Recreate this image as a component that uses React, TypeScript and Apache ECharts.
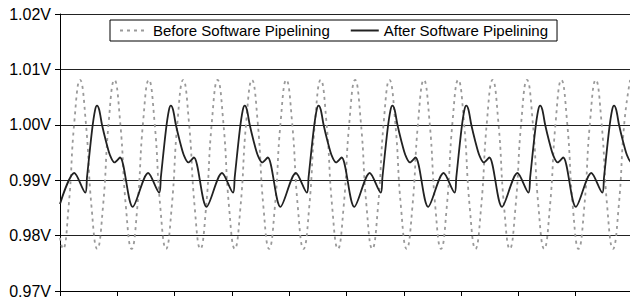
import React, { useEffect, useRef } from "react";
import * as echarts from "echarts";

const yTicks = [0.97, 0.98, 0.99, 1.0, 1.01, 1.02];
const seriesNames = ["Before Software Pipelining", "After Software Pipelining"];

const grayX = [
  0, 0.05, 0.15, 0.25, 0.35, 0.45, 0.55, 0.65, 0.75, 0.85,
  0.95, 1.05, 1.15, 1.25, 1.35, 1.45, 1.55, 1.65, 1.75, 1.85,
  1.95, 2.05, 2.15, 2.25, 2.35, 2.45, 2.55, 2.65, 2.75, 2.85,
  2.95, 3.05, 3.15, 3.25, 3.35, 3.45, 3.55, 3.65, 3.75, 3.85,
  3.95, 4.05, 4.15, 4.25, 4.35, 4.45, 4.55, 4.65, 4.75, 4.85,
  4.95, 5.05, 5.15, 5.25, 5.35, 5.45, 5.55, 5.65, 5.75, 5.85,
  5.95, 6.05, 6.15, 6.25, 6.35, 6.45, 6.55, 6.65, 6.75, 6.85,
  6.95, 7.05, 7.15, 7.25, 7.35, 7.45, 7.55, 7.65, 7.75, 7.85,
  7.95, 8.05, 8.15, 8.25, 8.35, 8.45, 8.55, 8.65, 8.75, 8.85,
  8.95, 9.05, 9.15, 9.25, 9.35, 9.45, 9.55, 9.65, 9.75, 9.85,
  9.95,
];

const grayY = [
  0.9796,
  0.9776, 0.9852, 1.0005, 1.0081, 1.0005, 0.9852,
  0.9776, 0.9852, 1.0005, 1.0081, 1.0005, 0.9852,
  0.9776, 0.9852, 1.0005, 1.0081, 1.0005, 0.9852,
  0.9776, 0.9852, 1.0005, 1.0081, 1.0005, 0.9852,
  0.9776, 0.9852, 1.0005, 1.0081, 1.0005, 0.9852,
  0.9776, 0.9852, 1.0005, 1.0081, 1.0005, 0.9852,
  0.9776, 0.9852, 1.0005, 1.0081, 1.0005, 0.9852,
  0.9776, 0.9852, 1.0005, 1.0081, 1.0005, 0.9852,
  0.9776, 0.9852, 1.0005, 1.0081, 1.0005, 0.9852,
  0.9776, 0.9852, 1.0005, 1.0081, 1.0005, 0.9852,
  0.9776, 0.9852, 1.0005, 1.0081, 1.0005, 0.9852,
  0.9776, 0.9852, 1.0005, 1.0081, 1.0005, 0.9852,
  0.9776, 0.9852, 1.0005, 1.0081, 1.0005, 0.9852,
  0.9776, 0.9852, 1.0005, 1.0081, 1.0005, 0.9852,
  0.9776, 0.9852, 1.0005, 1.0081, 1.0005, 0.9852,
  0.9776, 0.9852, 1.0005, 1.0081, 1.0005, 0.9852,
  0.9776, 0.9852, 1.0005, 1.0081,
];

const blackX = [
  0,
  0.25, 0.442, 0.471, 0.559, 0.611, 0.646, 0.684, 0.733, 0.803, 0.873, 0.951, 1.047, 1.269,
  1.539, 1.731, 1.76, 1.848, 1.9, 1.935, 1.973, 2.022, 2.092, 2.162, 2.24, 2.336, 2.558,
  2.828, 3.02, 3.049, 3.137, 3.189, 3.224, 3.262, 3.311, 3.381, 3.451, 3.529, 3.625, 3.847,
  4.117, 4.309, 4.338, 4.426, 4.478, 4.513, 4.551, 4.6, 4.67, 4.74, 4.818, 4.914, 5.136,
  5.406, 5.598, 5.627, 5.715, 5.767, 5.802, 5.84, 5.889, 5.959, 6.029, 6.107, 6.203, 6.425,
  6.695, 6.887, 6.916, 7.004, 7.056, 7.091, 7.129, 7.178, 7.248, 7.318, 7.396, 7.492, 7.714,
  7.984, 8.176, 8.205, 8.293, 8.345, 8.38, 8.418, 8.467, 8.537, 8.607, 8.685, 8.781, 9.003,
  9.273, 9.465, 9.494, 9.582, 9.634, 9.669, 9.707, 9.756, 9.826, 9.896, 9.974, 10.07,
];

const blackY = [
  0.9857,
  0.9913, 0.98775, 0.9905, 0.999, 1.0026, 1.00345, 1.0027, 1.0, 0.997, 0.9945, 0.9932, 0.9941, 0.9852,
  0.9913, 0.98775, 0.9905, 0.999, 1.0026, 1.00345, 1.0027, 1.0, 0.997, 0.9945, 0.9932, 0.9941, 0.9852,
  0.9913, 0.98775, 0.9905, 0.999, 1.0026, 1.00345, 1.0027, 1.0, 0.997, 0.9945, 0.9932, 0.9941, 0.9852,
  0.9913, 0.98775, 0.9905, 0.999, 1.0026, 1.00345, 1.0027, 1.0, 0.997, 0.9945, 0.9932, 0.9941, 0.9852,
  0.9913, 0.98775, 0.9905, 0.999, 1.0026, 1.00345, 1.0027, 1.0, 0.997, 0.9945, 0.9932, 0.9941, 0.9852,
  0.9913, 0.98775, 0.9905, 0.999, 1.0026, 1.00345, 1.0027, 1.0, 0.997, 0.9945, 0.9932, 0.9941, 0.9852,
  0.9913, 0.98775, 0.9905, 0.999, 1.0026, 1.00345, 1.0027, 1.0, 0.997, 0.9945, 0.9932, 0.9941, 0.9852,
  0.9913, 0.98775, 0.9905, 0.999, 1.0026, 1.00345, 1.0027, 1.0, 0.997, 0.9945, 0.9932, 0.9941,
];

const FONT = "'Liberation Sans', Arial, sans-serif";

export default function App() {
  const ref = useRef<HTMLDivElement>(null);
  useEffect(() => {
    if (!ref.current) return;
    const chart = echarts.init(ref.current, undefined, { renderer: "svg" });
    const grayData = grayX.map((x, i) => [x, grayY[i]]);
    const blackData = blackX.map((x, i) => [x, blackY[i]]);
    chart.setOption({
      animation: false,
      backgroundColor: "#ffffff",
      textStyle: { fontFamily: FONT },
      grid: { left: 60, right: 7, top: 14, bottom: 10, containLabel: false },
      legend: {
        left: 110,
        top: 20,
        padding: [3, 9, 3, 9],
        borderColor: "#000",
        borderWidth: 1,
        borderRadius: 0,
        backgroundColor: "#fff",
        itemWidth: 28,
        itemHeight: 12,
        itemGap: 20,
        itemStyle: { opacity: 0 },
        textStyle: { fontFamily: FONT, fontSize: 15, color: "#000" },
        data: seriesNames,
      },
      xAxis: {
        type: "value",
        min: 0,
        max: 10,
        interval: 1,
        axisLine: { show: true, onZero: false, lineStyle: { color: "#000", width: 1 } },
        axisTick: { show: true, length: 5, lineStyle: { color: "#000" } },
        axisLabel: { show: false },
        splitLine: { show: false },
      },
      yAxis: {
        type: "value",
        min: yTicks[0],
        max: yTicks[yTicks.length - 1],
        interval: 0.01,
        axisLine: { show: true, lineStyle: { color: "#000", width: 1 } },
        axisTick: { show: true, length: 5, lineStyle: { color: "#000" } },
        axisLabel: {
          margin: 9,
          fontFamily: FONT,
          fontSize: 16,
          color: "#000",
          formatter: (v: number) => v.toFixed(2) + "V",
        },
        splitLine: { show: true, lineStyle: { color: "#222", width: 1 } },
      },
      series: [
        {
          name: seriesNames[0],
          type: "line",
          data: grayData,
          symbol: "none",
          smooth: 0.5,
          lineStyle: { color: "#9a9a9a", width: 1.8, type: [3, 4] },
          itemStyle: { color: "#9a9a9a" },
        },
        {
          name: seriesNames[1],
          type: "line",
          data: blackData,
          symbol: "none",
          smooth: 0.3,
          lineStyle: { color: "#222", width: 1.8 },
          itemStyle: { color: "#222" },
        },
      ],
    });
    return () => chart.dispose();
  }, []);
  return (
    <div
      style={{
        position: "absolute",
        left: 0,
        top: 0,
        width: 630,
        height: 301,
        overflow: "hidden",
        background: "#fff",
      }}
    >
      <div ref={ref} style={{ width: 640, height: 301 }} />
    </div>
  );
}
